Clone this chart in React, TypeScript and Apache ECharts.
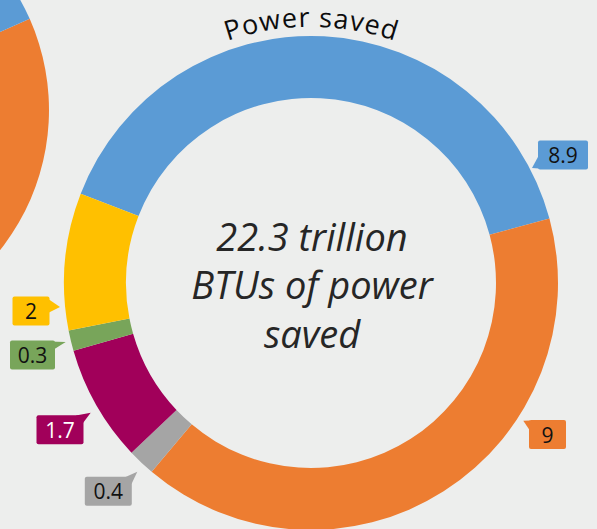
import React, { useEffect, useRef } from 'react';
import * as echarts from 'echarts';

// ---- data ----
const categories = ['Segment 1', 'Segment 2', 'Segment 3', 'Segment 4', 'Segment 5', 'Segment 6'];
const values = [8.9, 9, 0.4, 1.7, 0.3, 2];
const sliceColors = ['#5B9BD5', '#ED7D31', '#A5A5A5', '#A1005A', '#78A55A', '#FFC000'];
const labelTextColors = ['#111111', '#111111', '#111111', '#FFFFFF', '#111111', '#111111'];
const chartTitle = 'Power saved';
const centerUnit = ['trillion', 'BTUs of power', 'saved'];

// cropped neighbouring chart (only a sliver is visible at the top-left)
const neighborNames = ['Neighbor A', 'Neighbor B'];
const neighborValues = [60, 40];
const neighborColors = ['#ED7D31', '#5B9BD5'];

// ---- layout (not data) ----
const CX = 311;
const CY = 283;
const R_IN = 185;
const R_OUT = 247;
const FONT = '"Open Sans", "Noto Sans", sans-serif';

// callout boxes: centre, width, and pointer triangle (absolute px)
const callouts = [
  { x: 563, y: 155, w: 50, tri: [[538.5, 156], [532, 168], [546, 169]] },
  { x: 547.5, y: 434.5, w: 37, tri: [[530, 420.5], [523.3, 420.7], [529.5, 430]] },
  { x: 108.3, y: 491.3, w: 47, tri: [[125, 477.2], [137.3, 471.7], [131.5, 484]] },
  { x: 60, y: 429.7, w: 47, tri: [[76, 415.5], [90.7, 412.7], [83, 423]] },
  { x: 32.5, y: 355, w: 45, tri: [[49, 341.5], [65.7, 342], [54.5, 349]] },
  { x: 31, y: 311, w: 37, tri: [[49, 299.5], [60, 307], [49, 312.5]] },
];

function arcTitle(text: string, fontSize: number, r: number, spanDeg: number) {
  const canvas = document.createElement('canvas');
  const ctx = canvas.getContext('2d')!;
  ctx.font = `${fontSize}px ${FONT}`;
  const chars = text.split('');
  const widths = chars.map((c) => ctx.measureText(c).width);
  const natural = widths.reduce((a, b) => a + b, 0);
  const target = (spanDeg * Math.PI) / 180 * r;
  const extra = (target - natural) / (chars.length - 1);
  const total = natural + extra * (chars.length - 1);
  const els: any[] = [];
  let s = 0;
  chars.forEach((ch, i) => {
    const mid = s + widths[i] / 2;
    s += widths[i] + extra;
    if (ch === ' ') return;
    const th = (mid - total / 2) / r;
    const rm = r + fontSize * 0.32;
    els.push({
      type: 'text',
      x: CX + rm * Math.sin(th),
      y: CY - rm * Math.cos(th),
      rotation: -th,
      silent: true,
      style: {
        text: ch,
        fontSize,
        fontFamily: FONT,
        fill: '#0D0D0D',
        align: 'center',
        verticalAlign: 'middle',
      },
    });
  });
  return els;
}

export default function App() {
  const ref = useRef<HTMLDivElement>(null);
  useEffect(() => {
    if (!ref.current) return;
    const chart = echarts.init(ref.current, undefined, { renderer: 'svg' });
    const total = values.reduce((a, b) => a + b, 0);
    const centerText = `${total.toFixed(1)} ${centerUnit[0]}\n${centerUnit[1]}\n${centerUnit[2]}`;

    const data = values.map((v, i) => ({
      name: categories[i],
      value: v,
      itemStyle: { color: sliceColors[i] },
      label: {
        color: labelTextColors[i],
        backgroundColor: sliceColors[i],
        width: callouts[i].w,
      },
    }));

    const graphics: any[] = [];
    callouts.forEach((c, i) => {
      graphics.push({
        type: 'polygon',
        silent: true,
        shape: { points: c.tri },
        style: { fill: sliceColors[i] },
        z: 1,
      });
    });
    graphics.push({
      type: 'text',
      x: CX + 1,
      y: CY + 1,
      silent: true,
      style: {
        text: centerText,
        fontSize: 38,
        fontStyle: 'italic',
        fontFamily: FONT,
        fill: '#262626',
        align: 'center',
        verticalAlign: 'middle',
        lineHeight: 48.5,
      },
    });
    graphics.push(...arcTitle(chartTitle, 27, 258, 38));

    chart.setOption({
      animation: false,
      backgroundColor: '#EDEEED',
      graphic: graphics,
      series: [
        {
          type: 'pie',
          silent: true,
          center: [-176, 110],
          radius: [150, 225],
          startAngle: 23.9,
          clockwise: true,
          label: { show: false },
          labelLine: { show: false },
          data: neighborValues.map((v, i) => ({
            name: neighborNames[i],
            value: v,
            itemStyle: { color: neighborColors[i] },
          })),
        },
        {
          type: 'pie',
          silent: true,
          center: [CX, CY],
          radius: [R_IN, R_OUT],
          startAngle: 158.8,
          clockwise: true,
          avoidLabelOverlap: false,
          itemStyle: { borderWidth: 0 },
          label: {
            show: true,
            position: 'outside',
            formatter: '{c}',
            fontSize: 21,
            fontFamily: FONT,
            lineHeight: 21,
            padding: [4, 0, 4, 0],
            borderRadius: 2,
            align: 'center',
          },
          labelLine: { show: false },
          labelLayout: (p: any) => {
            const c = callouts[p.dataIndex];
            return { x: c.x, y: c.y, align: 'center', verticalAlign: 'middle', hideOverlap: false };
          },
          data,
        },
      ],
    });
    return () => chart.dispose();
  }, []);
  return (
    <div
      ref={ref}
      style={{ position: 'fixed', left: 0, top: 0, width: 597, height: 529 }}
    />
  );
}
